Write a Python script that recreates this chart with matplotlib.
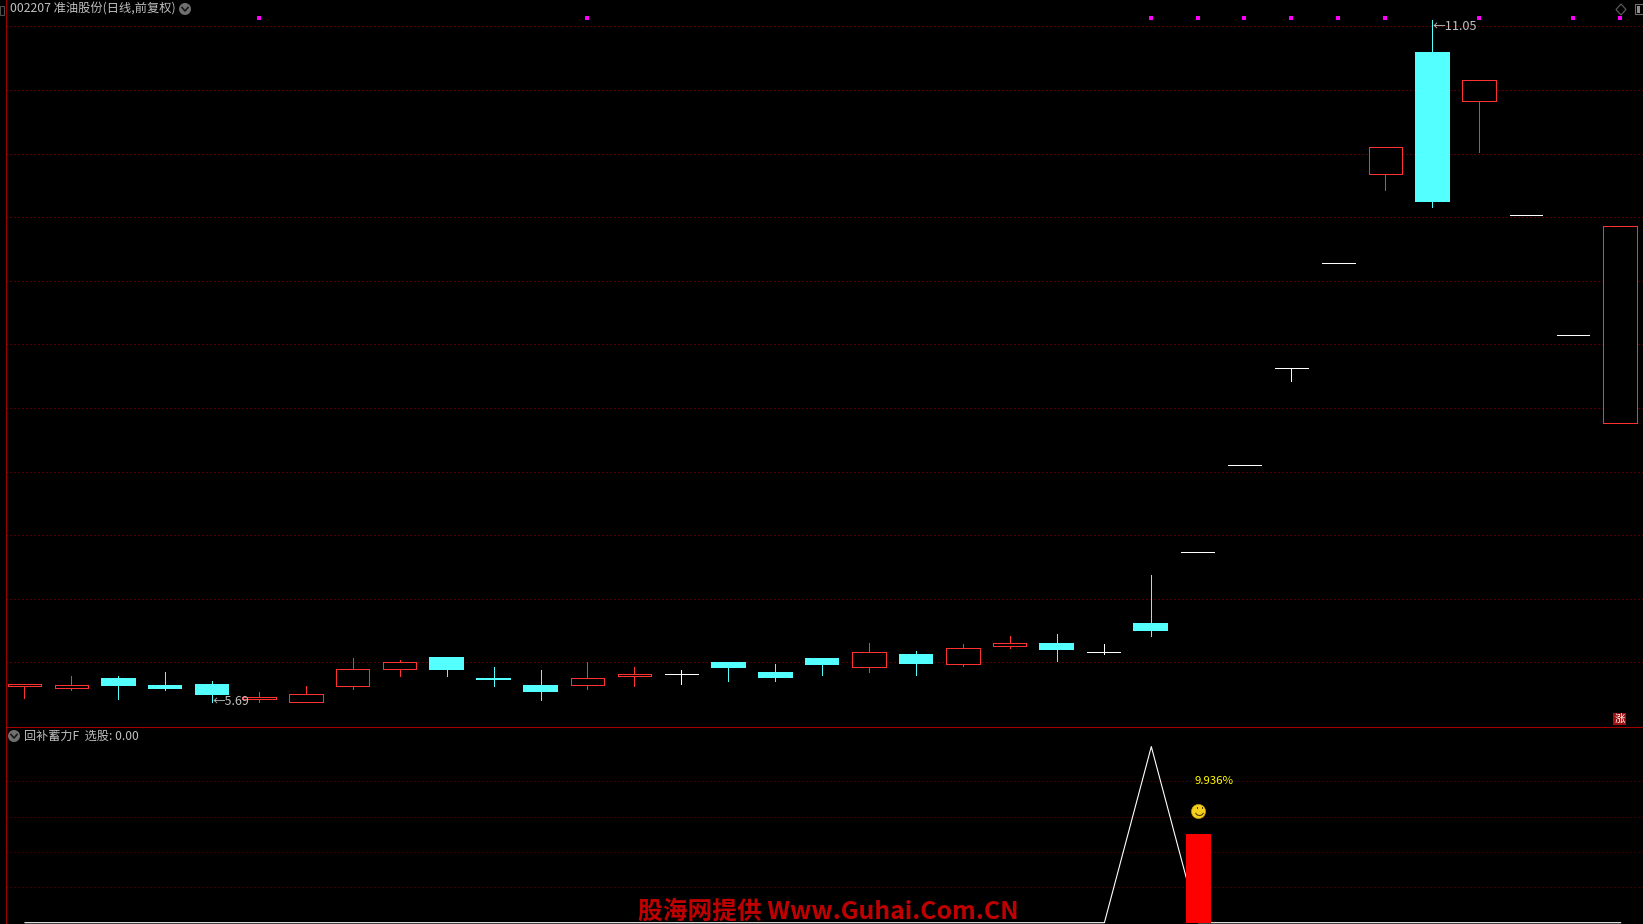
import matplotlib
matplotlib.use("Agg")
import matplotlib.pyplot as plt
from matplotlib.patches import Arc, Circle, Polygon, Rectangle

W = 1643
H = 924
plt.rcParams["font.family"] = ["Noto Sans CJK SC", "DejaVu Sans"]

RED = "#FF3232"
CYAN = "#54FFFF"
WHITE = "#FFFFFF"
GRAY = "#C0C0C0"
GRID = "#A00000"
GRID2 = "#7A0000"
LINE = "#A00000"

# candle values, one entry per day
opens = [5.81, 5.80, 5.88, 5.82, 5.83, 5.71, 5.69, 5.81, 5.95, 6.04, 5.88, 5.82,
         5.82, 5.89, 5.91, 6.00, 5.92, 6.03, 5.96, 6.065, 5.99, 6.13, 6.15, 6.08,
         6.31, 6.87, 7.55, 8.31, 9.14, 9.84, 10.80, 10.41, 9.52, 8.57, 7.88]
closes = [5.83, 5.82, 5.81, 5.79, 5.74, 5.73, 5.75, 5.95, 6.00, 5.94, 5.86, 5.77,
          5.88, 5.91, 5.91, 5.955, 5.88, 5.98, 6.08, 5.99, 6.11, 6.15, 6.10, 6.08,
          6.25, 6.87, 7.55, 8.31, 9.14, 10.05, 9.62, 10.575, 9.52, 8.57, 9.43]
highs = [5.83, 5.89, 5.89, 5.92, 5.85, 5.77, 5.81, 6.03, 6.02, 6.04, 5.96, 5.94,
         6.00, 5.96, 5.94, 6.00, 5.99, 6.03, 6.15, 6.09, 6.14, 6.21, 6.22, 6.14,
         6.69, 6.87, 7.55, 8.31, 9.14, 10.05, 11.05, 10.575, 9.52, 8.57, 9.43]
lows = [5.72, 5.78, 5.71, 5.78, 5.69, 5.69, 5.69, 5.79, 5.89, 5.89, 5.81, 5.70,
        5.79, 5.81, 5.83, 5.85, 5.85, 5.90, 5.92, 5.90, 5.97, 6.11, 6.01, 6.065,
        6.21, 6.87, 7.55, 8.21, 9.14, 9.71, 9.58, 10.01, 9.52, 8.57, 7.88]

price_grid = [6.0, 6.5, 7.0, 7.5, 8.0, 8.5, 9.0, 9.5, 10.0, 10.5, 11.0]
signal_days = [5, 12, 24, 25, 26, 27, 28, 29, 31, 33, 34]
signal_price = 11.063

# lower pane
ind_line = [0] * 24 + [99.5] + [0] * 10
ind_grid = [20, 40, 60, 80]
bar_day = 25
bar_value = 50


def px(x, y):
    ''' pixel position in the image -> figure fraction '''
    return x / W, 1 - y / H


def day_limits(first):
    return (6 - first) / 46.93, (W - first) / 46.93


def draw_candles(ax):
    for i in range(len(opens)):
        if closes[i] > opens[i]:
            col = RED
        elif closes[i] < opens[i]:
            col = CYAN
        else:
            col = WHITE
        ax.vlines(i, lows[i], highs[i], color=col, lw=0.7, zorder=3, antialiased=False)
        bottom = min(opens[i], closes[i])
        height = abs(closes[i] - opens[i])
        if col == RED:
            ax.bar(i, height, 0.71, bottom=bottom, facecolor="black", edgecolor=col,
                   lw=0.7, zorder=4, antialiased=False)
        elif col == CYAN:
            ax.bar(i, height, 0.74, bottom=bottom, facecolor=col, edgecolor=col,
                   lw=0, zorder=4, antialiased=False)
        else:
            ax.hlines(opens[i], i - 0.35, i + 0.35, color=col, lw=0.7, zorder=4,
                      antialiased=False)


def chevron_icon(fig, x, y):
    ''' round gray button with a small arrow in it '''
    fig.add_artist(Circle((x, H - y), 6, transform=None, color="#707070", lw=0))
    pts = [(x - 3, H - y + 1.5), (x, H - y - 2), (x + 3, H - y + 1.5)]
    fig.add_artist(plt.Line2D([p[0] for p in pts], [p[1] for p in pts], transform=None,
                              color="#181818", lw=1.2))


def main():
    fig = plt.figure(figsize=(W / 100, H / 100), dpi=100, facecolor="black")
    split = 727.3

    # top pane
    x0, y0 = px(0, split)
    ax = fig.add_axes([6 / W, y0, (W - 6) / W, split / H], facecolor="black")
    ax.set_xlim(day_limits(24.3))
    ax.set_ylim(11 - (split - 26.3) / 127.2, 11 + 26.3 / 127.2)
    ax.axis("off")
    for p in price_grid:
        ax.axhline(p, color=GRID, lw=0.72, ls=(0, (1, 3)), zorder=1)
    draw_candles(ax)
    ax.scatter(signal_days, [signal_price] * len(signal_days), s=7, marker="s",
               color="#FF00FF", lw=0, zorder=5)
    ax.annotate("←5.69", (4, 5.69), xytext=(0.5, 0), textcoords="offset points",
                color=GRAY, fontsize=9, va="center", ha="left", zorder=6)
    ax.annotate("←11.05", (30, 11.0), xytext=(0.5, 0), textcoords="offset points",
                color=GRAY, fontsize=9.2, va="center", ha="left", zorder=6)

    # lower pane
    ax2 = fig.add_axes([6 / W, 0, (W - 6) / W, (H - split) / H], facecolor="black")
    ax2.set_xlim(day_limits(25.0))
    ax2.set_ylim(-1.3 / 1.77, (922.7 - split) / 1.77)
    ax2.axis("off")
    for v in ind_grid:
        ax2.axhline(v, color=GRID2, lw=0.72, ls=(0, (1, 3)), zorder=1)
    ax2.plot(range(len(ind_line)), ind_line, color=WHITE, lw=0.8, zorder=3)
    ax2.bar(bar_day, bar_value, 0.53, color="#FF0000", lw=0, zorder=4, antialiased=False)
    ax2.scatter([bar_day], [63], s=105, color="#F4CF1E", edgecolor="#C09A00", lw=0.4, zorder=5)

    # smiley details
    for dx in (-2.5, 2.5):
        xf, yf = px(1199 + dx, 808.5)
        fig.add_artist(Rectangle((xf, yf), 1.5 / W, 2 / H, transform=fig.transFigure,
                                 color="#5A4000", lw=0))
    xf, yf = px(1199.5, 812)
    fig.add_artist(Arc((xf, yf), 8 / W, 7 / H, theta1=200, theta2=340,
                       transform=fig.transFigure, color="#5A4000", lw=0.8))

    ax2.annotate("9.936%", (bar_day, 80), xytext=(-2.5, 0), textcoords="offset points",
                 color="#FFFF00", fontsize=8.2, va="center", ha="left", zorder=6)

    # frame lines
    fig.add_artist(plt.Line2D([5.5 / W, 5.5 / W], [0, 1], color=LINE, lw=0.8))
    fig.add_artist(plt.Line2D([6 / W, 1], [y0, y0], color=LINE, lw=0.8))

    # header text and icons
    x, y = px(10, 9.5)
    fig.text(x, y, "002207 准油股份(日线,前复权)", color=GRAY, fontsize=8.8, va="center", ha="left")
    chevron_icon(fig, 185, 9)
    x, y = px(24, 736)
    fig.text(x, y, "回补蓄力F  选股: 0.00", color=GRAY, fontsize=8.7, va="center", ha="left")
    chevron_icon(fig, 14, 736)

    # watermark
    x, y = px(638, 912)
    fig.text(x, y, "股海网提供 Www.Guhai.Com.CN", color="#C00000", fontsize=17.8,
             fontweight="bold", va="center", ha="left", zorder=8)

    # little boxes in the corners
    x, y = px(1613, 725)
    fig.add_artist(Rectangle((x, y), 13 / W, 12 / H, transform=fig.transFigure,
                             color="#A01010", lw=0))
    x, y = px(1619.5, 719)
    fig.text(x, y, "涨", color="white", fontsize=7.5, va="center", ha="center", zorder=9)

    pts = [px(1621, 4), px(1626, 9.5), px(1621, 15), px(1616, 9.5)]
    fig.add_artist(Polygon(pts, closed=True, transform=fig.transFigure, fill=False,
                           edgecolor="#606060", lw=0.8))
    x, y = px(1634.5, 14)
    fig.add_artist(Rectangle((x, y), 9 / W, 9.5 / H, transform=fig.transFigure, fill=False,
                             edgecolor="#707070", lw=0.8))
    fig.add_artist(Rectangle((px(1637, 13)[0], px(1637, 13)[1]), 3 / W, 7.5 / H,
                             transform=fig.transFigure, color="#909090", lw=0))
    x, y = px(0, 15)
    fig.add_artist(Rectangle((x, y), 4 / W, 9 / H, transform=fig.transFigure, fill=False,
                             edgecolor="#505050", lw=0.8))

    fig.savefig("out.png", dpi=100, facecolor="black")


main()
